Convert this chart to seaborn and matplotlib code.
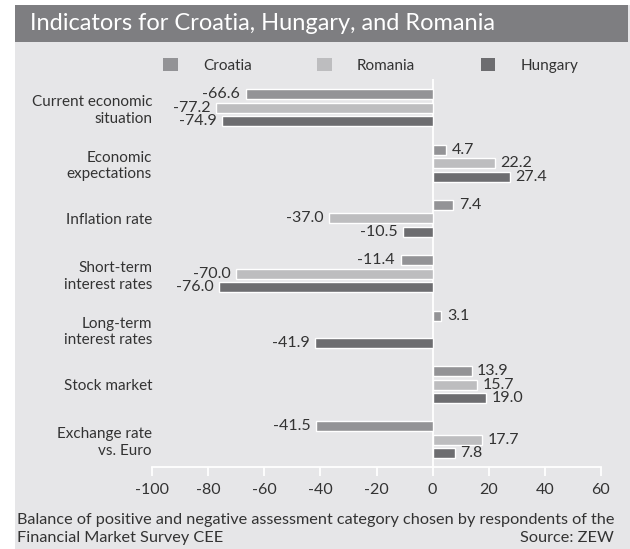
import numpy as np
import pandas as pd
import seaborn as sns
import matplotlib
matplotlib.use("Agg")
import matplotlib.pyplot as plt
from matplotlib.patches import Rectangle, Patch

# ---- data ----
categories = ["Current economic\nsituation", "Economic\nexpectations", "Inflation rate",
              "Short-term\ninterest rates", "Long-term\ninterest rates", "Stock market",
              "Exchange rate\nvs. Euro"]
countries = ["Croatia", "Romania", "Hungary"]
croatia = [-66.6, 4.7, 7.4, -11.4, 3.1, 13.9, -41.5]
romania = [-77.2, 22.2, -37.0, -70.0, np.nan, 15.7, 17.7]
hungary = [-74.9, 27.4, -10.5, -76.0, -41.9, 19.0, 7.8]
x_ticks = [-100, -80, -60, -40, -20, 0, 20, 40, 60]

title = "Indicators for Croatia, Hungary, and Romania"
footer1 = "Balance of positive and negative assessment category chosen by respondents of the"
footer2 = "Financial Market Survey CEE"
source = "Source: ZEW"

colors = {"Croatia": "#939396", "Romania": "#bdbdbf", "Hungary": "#6d6d70"}
panel = "#e6e6e8"
bar_title = "#7e7e81"
txt = "#333333"

rows = []
for c, vals in zip(countries, [croatia, romania, hungary]):
    for cat, v in zip(categories, vals):
        rows.append({"category": cat, "country": c, "value": v})
df = pd.DataFrame(rows)

sns.set_theme(style="white")
plt.rcParams["font.family"] = ["Lato", "DejaVu Sans"]
plt.rcParams["axes.unicode_minus"] = False

W, H = 630, 549
fig = plt.figure(figsize=(W / 100, H / 100), dpi=100, facecolor="white")

# panel background and title bar
fig.patches.append(Rectangle((15 / W, 0), 1 - 15 / W, 1 - 5 / H, transform=fig.transFigure,
                             facecolor=panel, edgecolor="none", zorder=-10))
fig.patches.append(Rectangle((15 / W, 1 - 42 / H), (628 - 15) / W, 37 / H, transform=fig.transFigure,
                             facecolor=bar_title, edgecolor="none", zorder=-9))
fig.text(30 / W, 1 - 24 / H, title, color="white", fontsize=17, va="center", ha="left")

ax = fig.add_axes([152 / W, 1 - 467 / H, (601 - 152) / W, (467 - 79) / H])
ax.set_facecolor("none")

sns.barplot(data=df, y="category", x="value", hue="country", order=categories,
            hue_order=countries, palette=colors, orient="h", width=0.731, gap=0.26,
            errorbar=None, ax=ax, legend=False, zorder=3)

for cont in ax.containers:
    labels = []
    for b in cont:
        w = b.get_width()
        labels.append("" if np.isnan(w) else f"{w:.1f}")
    ax.bar_label(cont, labels=labels, padding=4, fontsize=11.5, color=txt)

ax.set_xlim(-100, 60)
ax.set_ylim(6.488, -0.518)
ax.set_xticks(x_ticks)
ax.set_xticklabels([str(t) for t in x_ticks])
ax.axvline(0, color="white", lw=1.3, zorder=2)
for s in ["top", "right", "left"]:
    ax.spines[s].set_visible(False)
ax.spines["bottom"].set_color("white")
ax.spines["bottom"].set_linewidth(1.3)
ax.tick_params(axis="x", colors="white", direction="out", length=6.5, width=1.3,
               labelcolor=txt, labelsize=11.5, pad=5, bottom=True)
ax.tick_params(axis="y", length=0, labelcolor=txt, labelsize=11, pad=0)
for lab in ax.get_yticklabels():
    lab.set_linespacing(1.25)
ax.set_xlabel("")
ax.set_ylabel("")

handles = [Patch(facecolor=colors[c], edgecolor="none", label=c) for c in countries]
fig.legend(handles=handles, loc="center left", bbox_to_anchor=(157 / W, 1 - 65.5 / H), ncol=3,
           frameon=False, fontsize=11, handlelength=0.95, handleheight=0.95,
           handletextpad=1.65, columnspacing=4.3, labelcolor=txt, borderaxespad=0)

fig.text(17 / W, 1 - 520 / H, footer1, color=txt, fontsize=11.7, va="center", ha="left")
fig.text(17 / W, 1 - 538 / H, footer2, color=txt, fontsize=11.7, va="center", ha="left")
fig.text(614 / W, 1 - 538 / H, source, color=txt, fontsize=11.7, va="center", ha="right")

fig.savefig("out.png", dpi=100, facecolor="white")
